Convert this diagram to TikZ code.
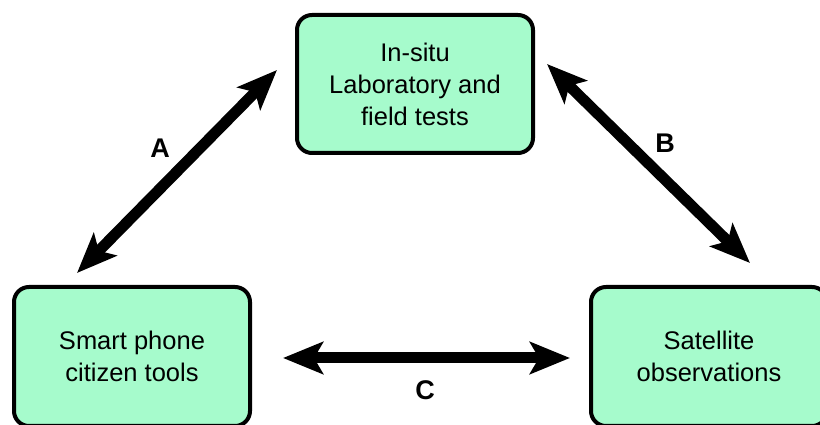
\documentclass[tikz,border=0pt]{standalone}
\usepackage{fontspec}
\setmainfont{Liberation Sans}
\usetikzlibrary{arrows.meta}
\definecolor{boxfill}{RGB}{166,251,204}
\tikzset{
  box/.style={draw=black, line width=4pt, fill=boxfill, rounded corners=15pt,
    minimum width=236pt, minimum height=138pt, align=center, inner sep=0pt,
    font=\fontsize{25.5}{32}\selectfont},
  bigarrow/.style={line width=11pt, {Stealth[length=40pt,width=32pt,inset=9pt]}-{Stealth[length=40pt,width=32pt,inset=9pt]}},
  lbl/.style={font=\bfseries\fontsize{27}{30}\selectfont, inner sep=0pt}
}
\begin{document}
\begin{tikzpicture}[x=1pt,y=1pt]
\clip (0,0) rectangle (820,425);
\fill[white] (0,0) rectangle (820,425);
\node[box] (top) at (415,341) {In-situ\\Laboratory and\\field tests};
\node[box, minimum height=139pt] (left) at (132,68.5) {Smart phone\\citizen tools};
\node[box, minimum height=139pt] (right) at (709,68.5) {Satellite\\observations};
\coordinate (a1) at (77,152);
\coordinate (a2) at (277,355);
\coordinate (b1) at (547,361);
\coordinate (b2) at (750,162);
\coordinate (c1) at (283,67);
\coordinate (c2) at (570,67);
\draw[bigarrow] (a1) -- (a2);
\draw[bigarrow] (b1) -- (b2);
\draw[bigarrow] (c1) -- (c2);
\node[lbl] (la) at (160,277) {A};
\node[lbl] (lb) at (665,282) {B};
\node[lbl] (lc) at (425,35) {C};
\end{tikzpicture}
\end{document}
